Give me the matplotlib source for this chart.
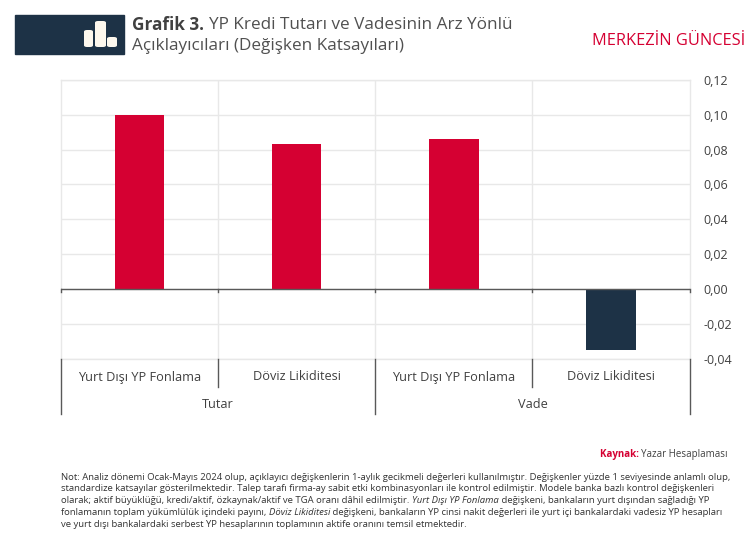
#!/usr/bin/env python
from matplotlib import pyplot as plt, ticker
from matplotlib.patches import Rectangle, FancyBboxPatch
from matplotlib.lines import Line2D

W, H = 751, 541

labels = ["Yurt Dışı YP Fonlama", "Döviz Likiditesi", "Yurt Dışı YP Fonlama", "Döviz Likiditesi"]
groups = ["Tutar", "Vade"]
values = [0.100, 0.0835, 0.086, -0.035]
colors = ["#d50032", "#d50032", "#d50032", "#1d3246"]
yticks = [0.12, 0.10, 0.08, 0.06, 0.04, 0.02, 0.00, -0.02, -0.04]

note = [
    [("Not: Analiz dönemi Ocak-Mayıs 2024 olup, açıklayıcı değişkenlerin 1-aylık gecikmeli değerleri kullanılmıştır. Değişkenler yüzde 1 seviyesinde anlamlı olup,", "normal")],
    [("standardize katsayılar gösterilmektedir. Talep tarafı firma-ay sabit etki kombinasyonları ile kontrol edilmiştir. Modele banka bazlı kontrol değişkenleri", "normal")],
    [("olarak; aktif büyüklüğü, kredi/aktif, özkaynak/aktif ve TGA oranı dâhil edilmiştir. ", "normal"), ("Yurt Dışı YP Fonlama", "italic"), (" değişkeni, bankaların yurt dışından sağladığı YP", "normal")],
    [("fonlamanın toplam yükümlülük içindeki payını, ", "normal"), ("Döviz Likiditesi", "italic"), (" değişkeni, bankaların YP cinsi nakit değerleri ile yurt içi bankalardaki vadesiz YP hesapları", "normal")],
    [("ve yurt dışı bankalardaki serbest YP hesaplarının toplamının aktife oranını temsil etmektedir.", "normal")],
]

plt.rcParams['font.family'] = ['Open Sans', 'DejaVu Sans']
fig = plt.figure(figsize=(W / 100, H / 100), dpi=100)

# axes box in pixels of the reference
ax = fig.add_axes([61 / W, 1 - 358.5 / H, (689.5 - 61) / W, (358.5 - 80) / H])
x = range(len(values))
ax.bar(x, values, width=0.315, color=colors, zorder=3)
ax.set_xlim(-0.5, 3.5)
ax.set_ylim(-0.04, 0.12)
ax.set_yticks(yticks)
ax.yaxis.set_major_formatter(ticker.FuncFormatter(lambda v, p: f"{v:.2f}".replace(".", ",")))
ax.yaxis.tick_right()
ax.tick_params(axis='y', length=0, pad=10, labelsize=9, labelcolor="#404040")
ax.set_xticks([])
ax.grid(axis='y', color="#e8e8e8", lw=1)
for v in [0.5, 1.5, 2.5]:
    ax.axvline(v, color="#e8e8e8", lw=1, zorder=1)
for s in ['top', 'bottom', 'left', 'right']:
    ax.spines[s].set_color("#e8e8e8")
    ax.spines[s].set_linewidth(1)

# zero line with its small ticks
ax.axhline(0, color="#595959", lw=1, zorder=4)
for v in [-0.5, 0.5, 1.5, 2.5, 3.5]:
    ax.plot([v, v], [-0.002, 0.0], color="#595959", lw=1, clip_on=False, zorder=4)

# two level category axis below the plot
def sep(v, y0, y1):
    fig.add_artist(Line2D([(61 + (v + 0.5) * 157.125) / W] * 2, [1 - y0 / H, 1 - y1 / H], color="#595959", lw=1))

for v in [-0.5, 1.5, 3.5]:
    sep(v, 358.5, 414)
for v in [0.5, 2.5]:
    sep(v, 358.5, 387)
for i, name in enumerate(labels):
    fig.text((61 + (i + 0.5) * 157.125) / W, 1 - 377 / H, name, ha='center', va='center', fontsize=9.2, color="#404040")
for i, name in enumerate(groups):
    fig.text((61 + (2 * i + 1) * 157.125) / W, 1 - 404 / H, name, ha='center', va='center', fontsize=9.2, color="#404040")

# header
fig.add_artist(Rectangle((15 / W, 1 - 54 / H), 109 / W, 39 / H, color="#1d3246"))
for bx, bw, top in [(84, 9, 30), (95, 11, 21), (107, 10, 37)]:
    fig.add_artist(FancyBboxPatch((bx / W, 1 - 47 / H), bw / W, (47 - top) / H, boxstyle="round,pad=0,rounding_size=0.004",
                                  mutation_aspect=H / W, color="#fdf8ee", lw=0))


def runs(x0, y, parts, **kw):
    # draws pieces of one line next to each other, each in its own style
    rend = fig.canvas.get_renderer()
    px = x0
    for s, style, weight, color in parts:
        t = fig.text(px / W, 1 - y / H, s, style=style, weight=weight, color=color, va='center', **kw)
        px = t.get_window_extent(rend).x1
    return px


runs(132, 25, [("Grafik 3. ", "normal", "bold", "#404040"), ("YP Kredi Tutarı ve Vadesinin Arz Yönlü", "normal", "normal", "#505050")], fontsize=12.3)
fig.text(132 / W, 1 - 46 / H, "Açıklayıcıları (Değişken Katsayıları)", fontsize=12.3, va='center', color="#505050")
fig.text(745 / W, 1 - 41 / H, "MERKEZİN GÜNCESİ", fontsize=11.8, va='center', ha='right', color="#d50032")

# source and note
runs(600, 454, [("Kaynak: ", "normal", "bold", "#d50032"), ("Yazar Hesaplaması", "normal", "normal", "#404040")], fontsize=7.0)
for i, line in enumerate(note):
    runs(61, 477 + i * 11.8, [(s, st, "normal", "#333333") for s, st in line], fontsize=6.8)

fig.savefig("out.png", dpi=100)
